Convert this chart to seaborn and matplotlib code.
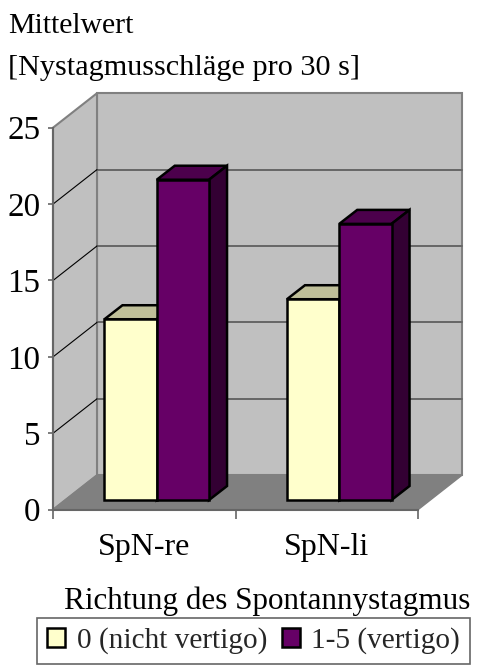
# Import libraries
import pandas as pd
import matplotlib
matplotlib.use("Agg")
import matplotlib.pyplot as plt
from matplotlib.patches import Polygon
import seaborn as sns

# Data
richtung = ["SpN-re", "SpN-li"]
gruppen = ["0 (nicht vertigo)", "1-5 (vertigo)"]
nicht_vertigo = [11.83, 13.14]
vertigo = [20.96, 18.07]
y_ticks = [0, 5, 10, 15, 20, 25]

df = pd.DataFrame({
    "Richtung": richtung * 2,
    "Gruppe": [gruppen[0]] * 2 + [gruppen[1]] * 2,
    "Mittelwert": nicht_vertigo + vertigo,
})

# Colours
front_colors = ["#FFFFCC", "#660066"]
top_colors = ["#BFBF99", "#4C004C"]
side_colors = ["#BFBF99", "#330033"]
WALL = "#C0C0C0"
FLOOR = "#808080"
LINE = "#666666"

sns.set_style("white")
plt.rcParams["font.family"] = ["Liberation Serif", "DejaVu Serif"]

W, H = 482, 668
fig = plt.figure(figsize=(W / 100, H / 100), dpi=100)
ax = fig.add_axes([53 / W, (H - 509.7) / H, 365 / W, 382 / H])

sns.barplot(data=df, x="Richtung", y="Mittelwert", hue="Gruppe",
            palette=front_colors, saturation=1, width=0.573, gap=0,
            edgecolor="black", linewidth=1.8, ax=ax, zorder=3)
handles, labels = ax.get_legend_handles_labels()
ax.get_legend().remove()

ax.set_xlim(-0.5, 1.5)
ax.set_ylim(0, 25)
PX_X = 365 / 2  # pixels per category
PX_Y = 382 / 25  # pixels per unit

# depth of the box and of the bars, in data units
wall_dx, wall_dy = 44 / PX_X, 34.5 / PX_Y
bar_dx, bar_dy = 18 / PX_X, 14 / PX_Y
shift_x, shift_y = 12.5 / PX_X, 9.7 / PX_Y

x0, x1 = -0.5, 1.5
# -------------------------------
# Box: back wall, side wall, floor
# -------------------------------
ax.add_patch(Polygon([(x0 + wall_dx, wall_dy), (x1 + wall_dx, wall_dy),
                      (x1 + wall_dx, 25 + wall_dy), (x0 + wall_dx, 25 + wall_dy)],
                     fc=WALL, ec=FLOOR, lw=1.5, clip_on=False, zorder=1))
ax.add_patch(Polygon([(x0, 0), (x0 + wall_dx, wall_dy),
                      (x0 + wall_dx, 25 + wall_dy), (x0, 25)],
                     fc=WALL, ec=FLOOR, lw=1.5, clip_on=False, zorder=1))
ax.add_patch(Polygon([(x0, 0), (x1, 0), (x1 + wall_dx, wall_dy), (x0 + wall_dx, wall_dy)],
                     fc=FLOOR, ec=FLOOR, lw=1, clip_on=False, zorder=1.2))

# grid lines on the walls
for t in y_ticks[1:-1]:
    ax.plot([x0 + wall_dx, x1 + wall_dx], [t + wall_dy, t + wall_dy],
            color=LINE, lw=1.4, clip_on=False, zorder=1.5)
    ax.plot([x0, x0 + wall_dx], [t, t + wall_dy],
            color="black", lw=0.8, clip_on=False, zorder=1.5)

# -------------------------------
# Bars: move the fronts onto the floor and add top and side faces
# -------------------------------
for i, container in enumerate(ax.containers):
    for bar in container:
        bar.set_x(bar.get_x() + shift_x)
        bar.set_y(shift_y)
        bar.set_joinstyle("miter")
        left = bar.get_x()
        right = left + bar.get_width()
        bottom = shift_y
        top = bottom + bar.get_height()
        ax.add_patch(Polygon([(left, top), (right, top),
                              (right + bar_dx, top + bar_dy), (left + bar_dx, top + bar_dy)],
                             fc=top_colors[i], ec="black", lw=1.8, clip_on=False, zorder=2.5 + i / 10))
        ax.add_patch(Polygon([(right, bottom), (right + bar_dx, bottom + bar_dy),
                              (right + bar_dx, top + bar_dy), (right, top)],
                             fc=side_colors[i], ec="black", lw=1.8, clip_on=False, zorder=2.5 + i / 10))

# -------------------------------
# Axes, ticks and text
# -------------------------------
sns.despine(ax=ax)
for side in ["left", "bottom"]:
    ax.spines[side].set_color(LINE)
    ax.spines[side].set_linewidth(1.5)
    ax.spines[side].set_zorder(4)

ax.set_xlabel("")
ax.set_ylabel("")
ax.set_yticks(y_ticks)
ax.tick_params(axis="y", which="major", left=True, length=3.6, width=1.2,
               color=LINE, labelsize=23.8, pad=5.5, labelcolor="black")
ax.set_xticks([-0.5, 0.5, 1.5])
ax.set_xticklabels([])
ax.set_xticks([0, 1], minor=True)
ax.set_xticklabels(richtung, minor=True)
ax.tick_params(axis="x", which="major", bottom=True, length=6.5, width=1.2, color=LINE)
ax.tick_params(axis="x", which="minor", bottom=False, length=0, labelsize=23, pad=17, labelcolor="black")

fig.text(8 / W, 1 - 33 / H, "Mittelwert", fontsize=21.4, color="black")
fig.text(8 / W, 1 - 75 / H, "[Nystagmusschläge pro 30 s]", fontsize=21.8, color="black")
fig.text(64 / W, 1 - 609 / H, "Richtung des Spontannystagmus", fontsize=22.4, color="black")

leg = ax.legend(handles, labels, ncol=2, loc="lower left",
                bbox_to_anchor=(37 / W, 1 - 664 / H), bbox_transform=fig.transFigure,
                frameon=True, fancybox=False, edgecolor=LINE, framealpha=1,
                fontsize=21.1, handlelength=0.62, handleheight=0.62, handletextpad=0.4,
                columnspacing=0.5, borderaxespad=0, borderpad=0.33)
leg.get_frame().set_linewidth(1.2)

fig.savefig("out.png", dpi=100)
